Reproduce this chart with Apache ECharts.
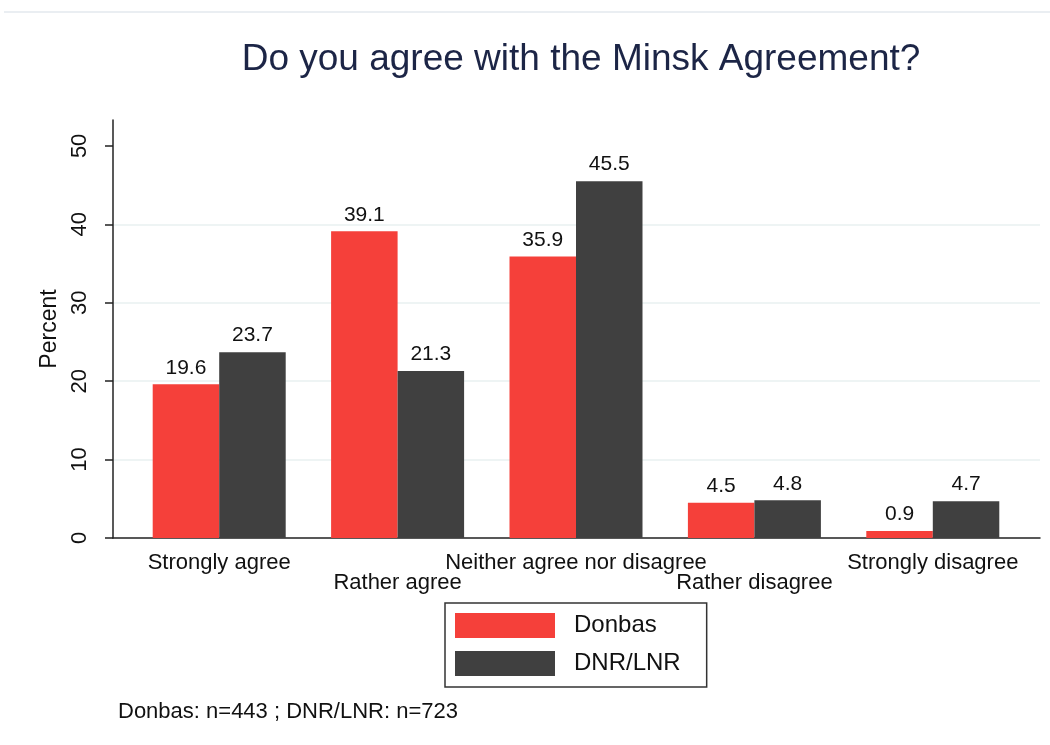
<!DOCTYPE html>
<html>
<head>
<meta charset="utf-8">
<script src="https://cdn.jsdelivr.net/npm/echarts@6/dist/echarts.min.js"></script>
<style>
html,body{margin:0;padding:0;background:#fff;}
#chart{width:1050px;height:745px;}
</style>
</head>
<body>
<div id="chart"></div>
<script>
const categories = ['Strongly agree', 'Rather agree', 'Neither agree nor disagree', 'Rather disagree', 'Strongly disagree'];
const donbas = [19.6, 39.1, 35.9, 4.5, 0.9];
const dnrLnr = [23.7, 21.3, 45.5, 4.8, 4.7];
const yTicks = [0, 10, 20, 30, 40, 50];
const seriesNames = ['Donbas', 'DNR/LNR'];
const titleText = 'Do you agree with the Minsk Agreement?';
const noteText = 'Donbas: n=443 ; DNR/LNR: n=723';

const FONT = '"Liberation Sans", Arial, sans-serif';
const YMAX = 53.3;

const chart = echarts.init(document.getElementById('chart'), null, {renderer: 'canvas'});
chart.setOption({
  backgroundColor: '#fff',
  textStyle: {fontFamily: FONT},
  animation: false,
  title: [
    {text: titleText, left: 576, top: 36, textAlign: 'center',
     textStyle: {fontSize: 37, fontWeight: 'normal', color: '#1c2546', fontFamily: FONT}},
    {text: noteText, left: 113, top: 696,
     textStyle: {fontSize: 22, fontWeight: 'normal', color: '#111', fontFamily: FONT}}
  ],
  graphic: [
    {type: 'line', shape: {x1: 4, y1: 12, x2: 1050, y2: 12}, style: {stroke: '#e3e9ee', lineWidth: 1.5}, silent: true}
  ],
  grid: [
    {left: 113, right: 10, top: 120, bottom: 207},
    {left: 130, right: 28, top: 120, bottom: 207}
  ],
  xAxis: [
    {gridIndex: 0, type: 'value', min: 0, max: 1,
     axisLine: {show: true, lineStyle: {color: '#222', width: 1.5}},
     axisTick: {show: false}, axisLabel: {show: false}, splitLine: {show: false}},
    {gridIndex: 1, type: 'category', data: categories,
     axisLine: {show: false}, axisTick: {show: false},
     axisLabel: {interval: 0, fontSize: 22, lineHeight: 20, margin: 15, color: '#111', fontFamily: FONT,
       formatter: (v, i) => (i % 2 ? '\n' + v : v)}}
  ],
  yAxis: [
    {gridIndex: 0, type: 'value', min: 0, max: YMAX, interval: 10,
     name: 'Percent', nameLocation: 'middle', nameRotate: 90, nameGap: 50,
     nameTextStyle: {fontSize: 23, color: '#111', fontFamily: FONT},
     axisLine: {show: true, lineStyle: {color: '#222', width: 1.5}},
     axisTick: {show: true, length: 8, lineStyle: {color: '#222', width: 1.5}, customValues: yTicks},
     axisLabel: {rotate: 90, fontSize: 22, margin: 22, color: '#111', fontFamily: FONT, customValues: yTicks},
     splitLine: {show: true, showMinLine: false, showMaxLine: false, lineStyle: {color: '#e8f0f0', width: 1.5}}},
    {gridIndex: 1, type: 'value', min: 0, max: YMAX, show: false}
  ],
  legend: {
    orient: 'vertical', left: 445, top: 603,
    itemWidth: 100, itemHeight: 25, itemGap: 13, icon: 'rect',
    padding: [10, 26, 11, 10], borderColor: '#333', borderWidth: 1.5,
    textStyle: {fontSize: 24, color: '#111', fontFamily: FONT, padding: [0, 0, 0, 14]},
    data: seriesNames
  },
  series: [
    {name: seriesNames[0], type: 'bar', xAxisIndex: 1, yAxisIndex: 1, data: donbas,
     barWidth: 66.5, barGap: '0%', itemStyle: {color: '#f5403a'},
     label: {show: true, position: 'top', distance: 6, fontSize: 21, color: '#111', fontFamily: FONT,
       formatter: p => p.value.toFixed(1)}},
    {name: seriesNames[1], type: 'bar', xAxisIndex: 1, yAxisIndex: 1, data: dnrLnr,
     barWidth: 66.5, barGap: '0%', itemStyle: {color: '#404040'},
     label: {show: true, position: 'top', distance: 6, fontSize: 21, color: '#111', fontFamily: FONT,
       formatter: p => p.value.toFixed(1)}}
  ]
});
</script>
</body>
</html>
